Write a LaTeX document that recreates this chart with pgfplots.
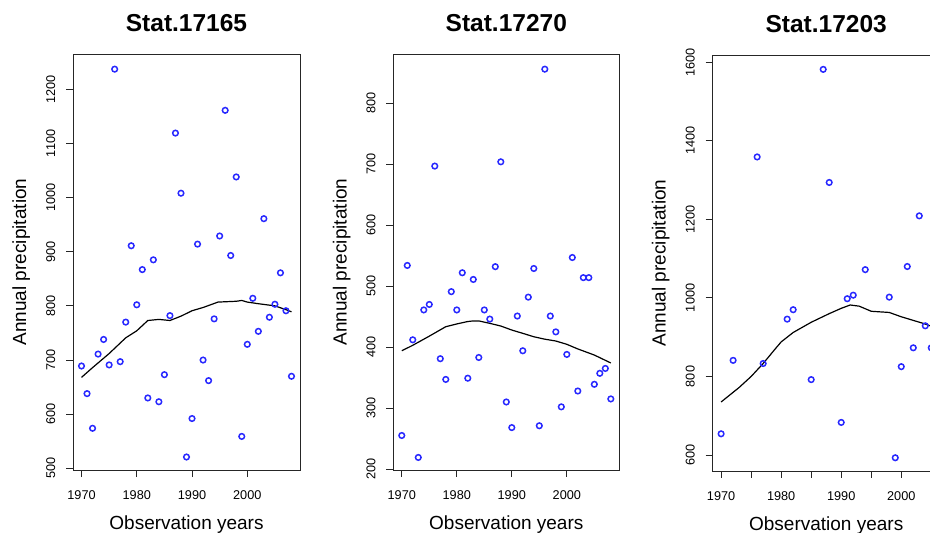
\documentclass[border=0pt]{standalone}
\usepackage{fontspec}
\setmainfont{Liberation Sans}
\usepackage{pgfplots}
\pgfplotsset{compat=1.18}
\definecolor{ptblue}{RGB}{40,40,255}

\pgfplotsset{
  panel/.style={
    scale only axis, width=227pt, height=416pt,
    axis line style={black!85, line width=0.9pt},
    tick style={black!85, line width=0.9pt},
    tick align=outside, major tick length=7pt,
    xtick pos=bottom, ytick pos=left,
    /pgf/number format/assume math mode=true,
    /pgf/number format/1000 sep={},
    ticklabel style={font=\fontsize{12.7}{14}\selectfont},
    xticklabel style={yshift=-10.5pt},
    yticklabel style={xshift=-11pt, rotate=90, anchor=base},
    title style={font=\bfseries\fontsize{24.5}{26}\selectfont,
      at={(axis description cs:0.5,1.040)}, anchor=base},
    xlabel style={font=\fontsize{19}{21}\selectfont,
      at={(axis description cs:0.5,-0.143)}, anchor=base},
    ylabel style={font=\fontsize{19}{21}\selectfont,
      at={(axis description cs:-0.207,0.5)}, anchor=base},
    xlabel={Observation years}, ylabel={Annual precipitation},
  },
  pts/.style={only marks, mark=o, mark size=2.8pt, ptblue,
    mark options={line width=1.5pt}},
  lowess/.style={black, line width=1.2pt, no marks},
}

\begin{document}
\begin{tikzpicture}

% Stat.17165
\begin{axis}[panel, at={(73pt,63pt)}, anchor=south west,
  title={Stat.17165},
  xmin=1968.46, xmax=2009.54, ymin=497, ymax=1265,
  xtick={1970,1980,1990,2000}, ytick={500,600,...,1200}]
\addplot[pts] coordinates {
(1970,689) (1971,638) (1972,574) (1973,711) (1974,738) (1975,691)
(1976,1237) (1977,697) (1978,770) (1979,911) (1980,802) (1981,867)
(1982,630) (1983,885) (1984,623) (1985,673) (1986,782) (1987,1119)
(1988,1008) (1989,521) (1990,592) (1991,914) (1992,700) (1993,662)
(1994,776) (1995,929) (1996,1161) (1997,893) (1998,1038) (1999,559)
(2000,729) (2001,814) (2002,753) (2003,961) (2004,779) (2005,803)
(2006,861) (2007,791) (2008,670)
};
\addplot[lowess] coordinates {
(1970,668) (1972,686) (1975,712) (1978,741) (1980,754) (1982,773)
(1984,775) (1986,773) (1988,781) (1990,791) (1992,797) (1994.7,807)
(1998,808.5) (1999,810) (2000,807) (2002,804) (2005,800) (2007,793) (2008,789)
};
\end{axis}

% Stat.17270
\begin{axis}[panel, at={(393.3pt,63pt)}, anchor=south west, width=226pt,
  title={Stat.17270},
  xmin=1968.46, xmax=2009.54, ymin=198.4, ymax=880.9,
  xtick={1970,1980,1990,2000}, ytick={200,300,...,800}]
\addplot[pts] coordinates {
(1970,255) (1971,534) (1972,412) (1973,219) (1974,461) (1975,470)
(1976,697) (1977,381) (1978,347) (1979,491) (1980,461) (1981,522)
(1982,349) (1983,511) (1984,383) (1985,461) (1986,446) (1987,532)
(1988,704) (1989,310) (1990,268) (1991,451) (1992,394) (1993,482)
(1994,529) (1995,271) (1996,856) (1997,451) (1998,425) (1999,302)
(2000,388) (2001,547) (2002,328) (2003,514) (2004,514) (2005,339)
(2006,357) (2007,365) (2008,315)
};
\addplot[lowess] coordinates {
(1970,394) (1972,403) (1975,418) (1978,433.5) (1980,438) (1982,442)
(1983,443) (1984,443) (1986,439) (1988,434.6) (1990,428) (1992,422.6)
(1994,417) (1996,413) (1998,410) (2000,404.6) (2002,397) (2005,387) (2008,374)
};
\end{axis}

% Stat.17203 (right side cut off)
\begin{axis}[panel, at={(712.7pt,62pt)}, anchor=south west,
  title={Stat.17203},
  xmin=1968.6, xmax=2006.4, ymin=559.3, ymax=1618.6,
  xtick={1970,1975,...,2005}, xticklabels={1970,,1980,,1990,,2000,},
  ytick={600,800,...,1600}]
\addplot[pts] coordinates {
(1970,654) (1972,841) (1976,1359) (1977,833) (1981,946) (1982,970)
(1985,792) (1987,1582) (1988,1294) (1990,683) (1991,998) (1992,1007)
(1994,1072) (1998,1002) (1999,593) (2000,825) (2001,1080) (2002,873)
(2003,1209) (2004,929) (2005,873)
};
\addplot[lowess] coordinates {
(1970,735) (1973,772) (1975,800) (1977,833) (1979,870) (1980,888) (1982,912)
(1985,938) (1988,960) (1990,973.5) (1991.5,982) (1993,979) (1995,966)
(1998,963) (2000,952) (2003.7,935) (2005,928)
};
\end{axis}

\pgfresetboundingbox
\useasboundingbox (0,0) rectangle (930pt,533pt);
\end{tikzpicture}
\end{document}
